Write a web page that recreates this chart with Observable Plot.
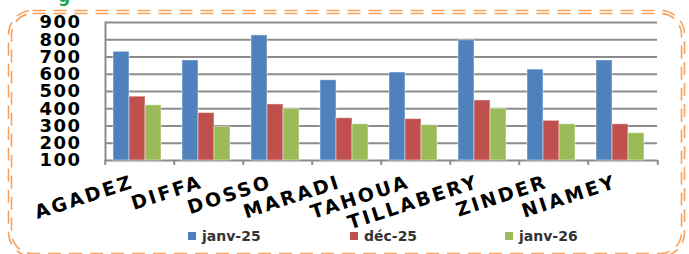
<!DOCTYPE html>
<html><head><meta charset="utf-8">
<script src="https://cdn.jsdelivr.net/npm/d3@7"></script>
<script src="https://cdn.jsdelivr.net/npm/@observablehq/plot@0.6"></script>
<style>
html,body{margin:0;padding:0;background:#fff;}
#wrap{position:relative;width:689px;height:254px;overflow:hidden;font-family:"DejaVu Sans",sans-serif;}
#wrap svg.plot{position:absolute;left:0;top:0;}
#wrap svg.plot g[aria-label="fx-axis tick label"] text{letter-spacing:2.5px;}
#wrap svg.plot g[aria-label="y-axis tick label"] text{letter-spacing:1.5px;}
#frame{position:absolute;left:0;top:0;pointer-events:none;}
.leg{position:absolute;top:228px;font:bold 14px "DejaVu Sans",sans-serif;color:#333;white-space:nowrap;}
.leg span.sw{display:inline-block;width:8px;height:8px;margin-right:6px;vertical-align:1px;}
#ttl{position:absolute;left:58px;top:-14px;font:bold 17px "DejaVu Sans",sans-serif;color:#1aa84a;}
</style></head>
<body>
<div id="wrap"></div>
<script>
const categories = ["AGADEZ","DIFFA","DOSSO","MARADI","TAHOUA","TILLABERY","ZINDER","NIAMEY"];
const seriesNames = ["janv-25","déc-25","janv-26"];
const janv25 = [730,680,825,565,610,797,627,680];
const dec25 = [470,375,425,345,340,448,330,310];
const janv26 = [420,295,400,310,305,400,310,258];
const yTicks = [100,200,300,400,500,600,700,800,900];
const colors = ["#4F81BD","#C0504D","#9BBB59"];

const seriesValues = [janv25, dec25, janv26];
const data = [];
categories.forEach((c,i)=>seriesNames.forEach((s,j)=>data.push({cat:c, series:s, value:seriesValues[j][i]})));

const W = 689, ML = 103, MR = 30;
const halfBand = (W - ML - MR) / categories.length / 2;

const chart = Plot.plot({
  width: W, height: 254,
  marginTop: 22, marginBottom: 94, marginLeft: ML, marginRight: MR,
  style: {fontFamily: "DejaVu Sans, sans-serif", background: "transparent"},
  fx: {domain: categories, padding: 0, label: null},
  x: {domain: seriesNames, paddingInner: 0, paddingOuter: 0.62, axis: null},
  y: {domain: [100, 900], label: null},
  color: {domain: seriesNames, range: colors},
  marks: [
    Plot.ruleY(yTicks, {stroke: "#8c8c8c", strokeWidth: 2}),
    Plot.barY(data, {fx: "cat", x: "series", y1: 100, y2: "value", fill: "series", stroke: "#ffffff", strokeOpacity: 0.45, strokeWidth: 1, dx: -3}),
    Plot.frame({anchor: "left", fx: ["AGADEZ"], stroke: "#8c8c8c", strokeWidth: 2}),
    Plot.ruleX(categories, {fx: d => d, x: null, y1: 100, y2: 100, insetBottom: -5, dx: -halfBand, stroke: "#8c8c8c", strokeWidth: 2}),
    Plot.ruleX(["NIAMEY"], {fx: d => d, x: null, y1: 100, y2: 100, insetBottom: -5, dx: halfBand, stroke: "#8c8c8c", strokeWidth: 2}),
    Plot.axisY(yTicks, {tickSize: 0, tickPadding: 24, fontSize: 18, fontWeight: "bold", fill: "#000"}),
    Plot.axisFx({anchor: "bottom", tickSize: 0, tickRotate: -18, tickPadding: 6, fontSize: 19, fontWeight: "bold", fill: "#000", label: null, dx: -7, dy: 15})
  ]
});
chart.classList.add("plot");
const wrap = document.getElementById("wrap");
wrap.appendChild(chart);

const ttl = document.createElement("div");
ttl.id = "ttl"; ttl.textContent = "g";
wrap.appendChild(ttl);

// legend
const legX = [188, 350, 505];
seriesNames.forEach((s,i)=>{
  const d = document.createElement("div");
  d.className = "leg";
  d.style.left = legX[i] + "px";
  d.innerHTML = `<span class="sw" style="background:${colors[i]}"></span>${s}`;
  wrap.appendChild(d);
});

// dashed double frame
const ns = "http://www.w3.org/2000/svg";
const fr = document.createElementNS(ns, "svg");
fr.setAttribute("id","frame"); fr.setAttribute("width",689); fr.setAttribute("height",254);
[[8.5,10.5,676,246,24],[11.5,13.5,670,240,21]].forEach(([x,y,w,h,r])=>{
  const rc = document.createElementNS(ns,"rect");
  rc.setAttribute("x",x); rc.setAttribute("y",y); rc.setAttribute("width",w); rc.setAttribute("height",h);
  rc.setAttribute("rx",r); rc.setAttribute("fill","none"); rc.setAttribute("stroke","#F7A25E");
  rc.setAttribute("stroke-width",1.6); rc.setAttribute("stroke-dasharray","13 8");
  fr.appendChild(rc);
});
wrap.appendChild(fr);
</script>
</body></html>
